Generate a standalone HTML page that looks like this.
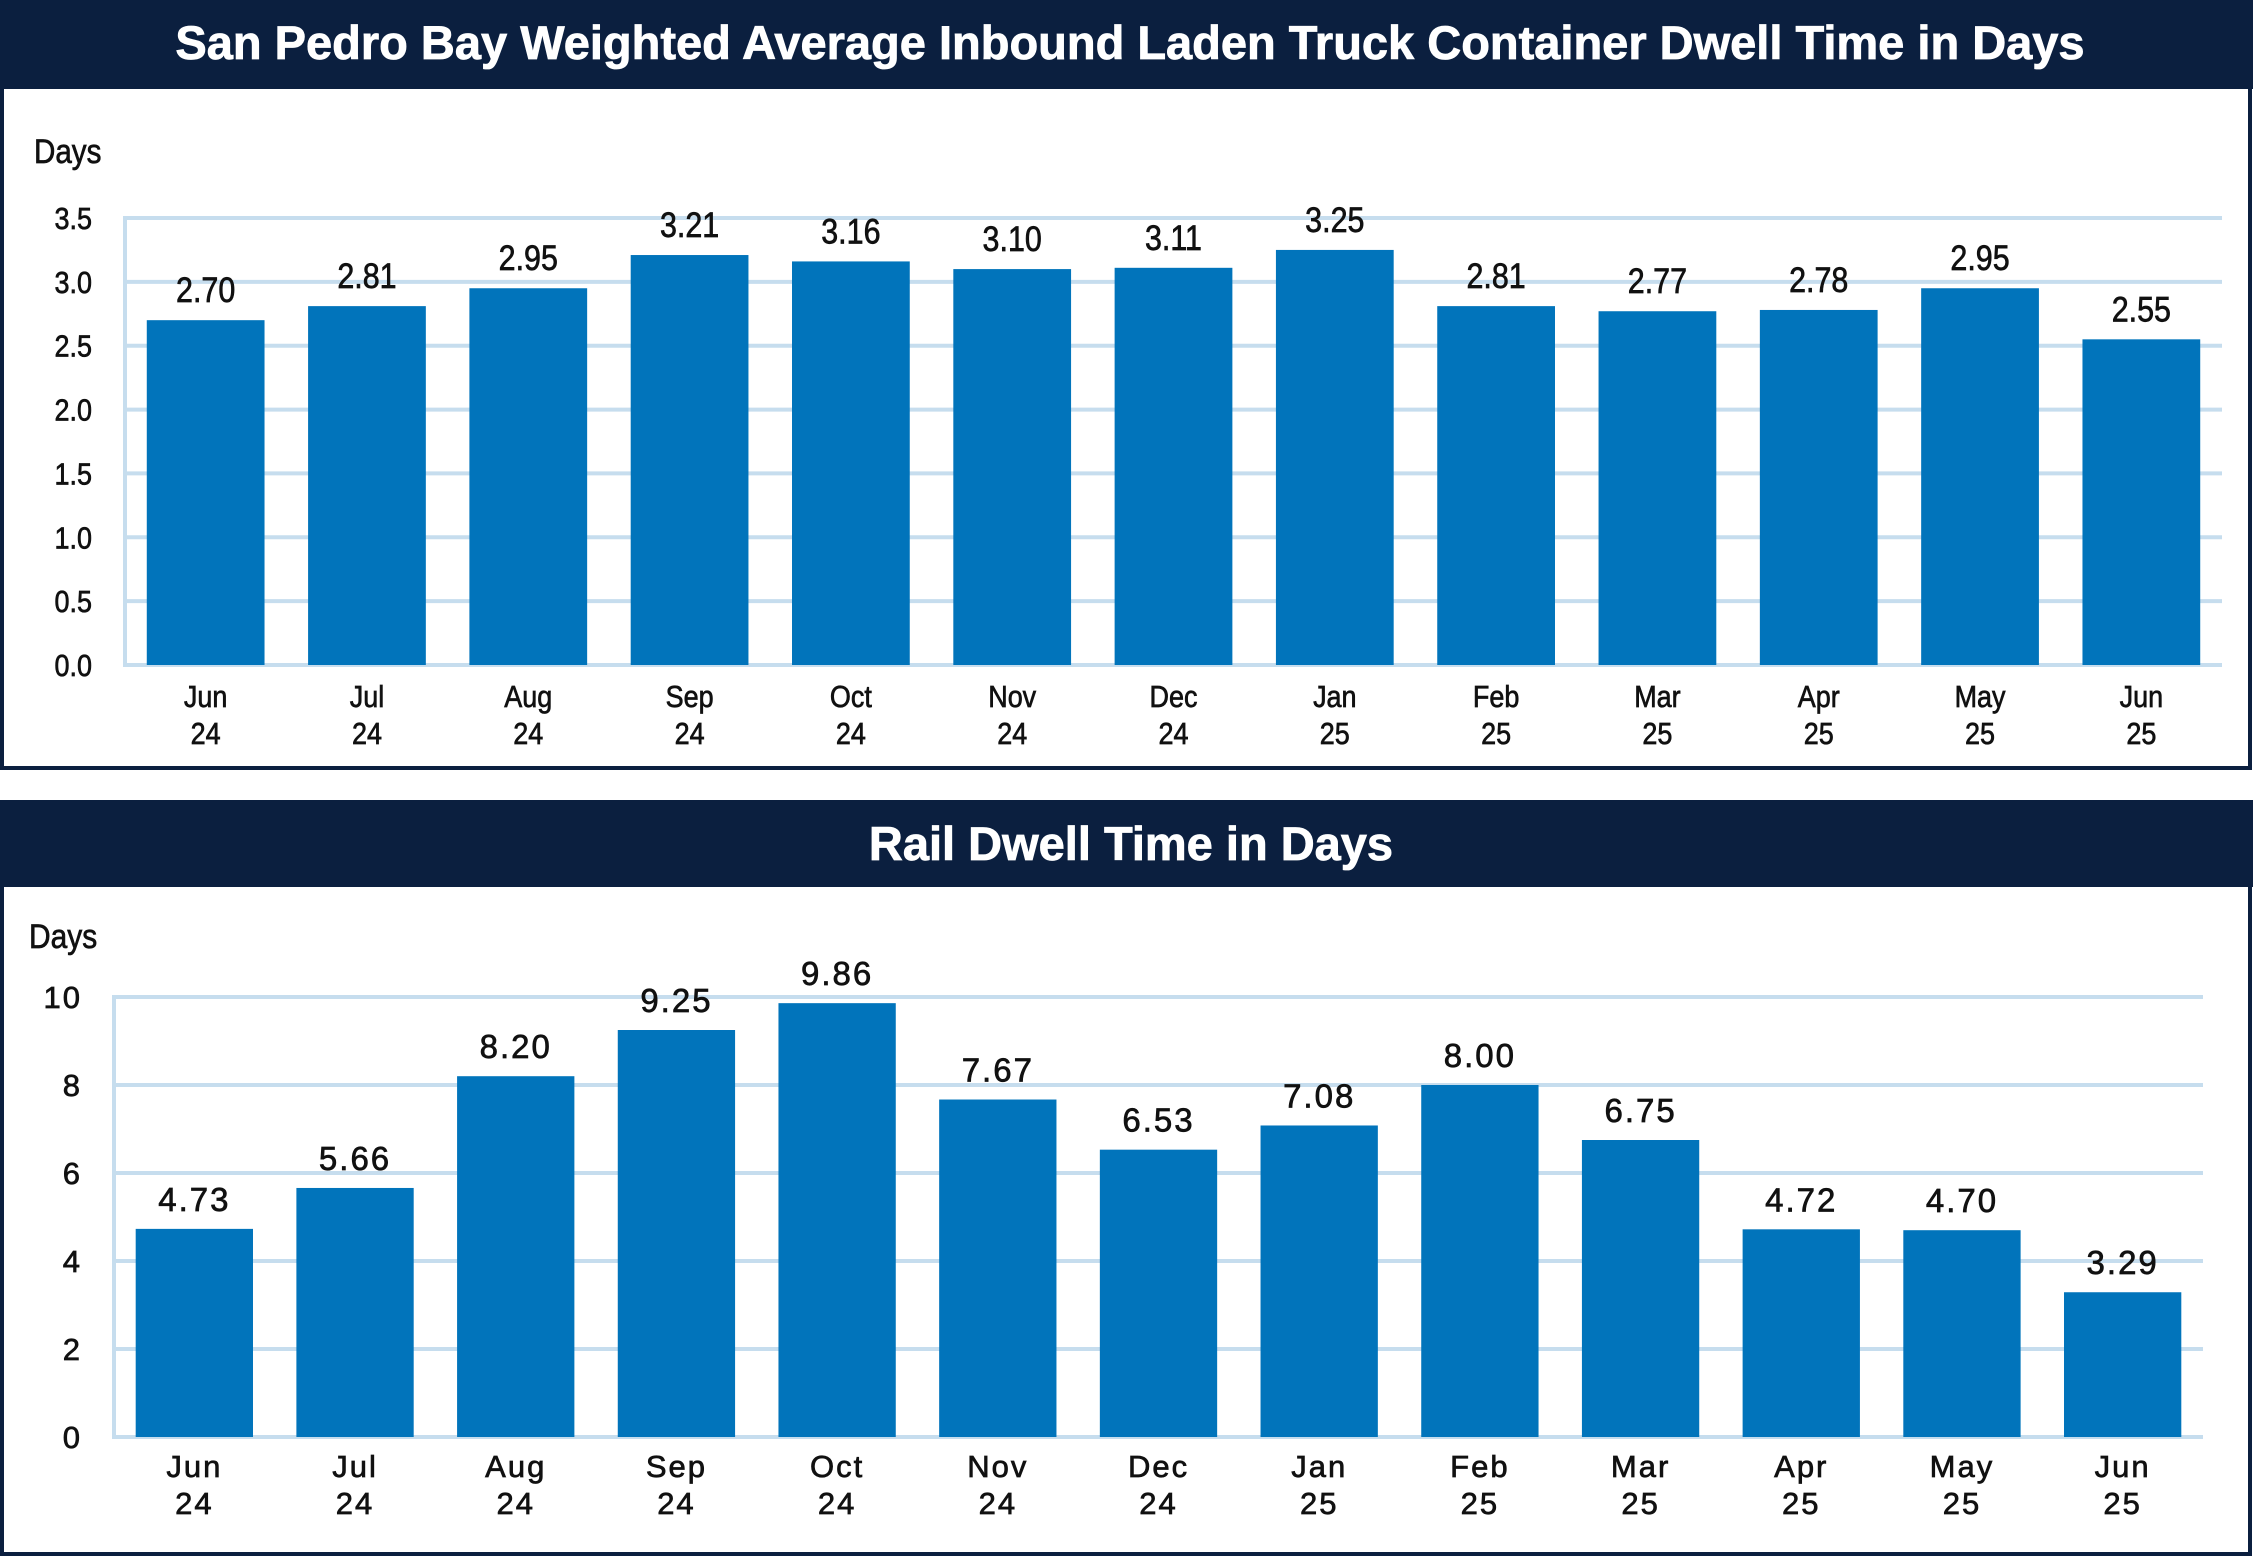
<!DOCTYPE html>
<html><head><meta charset="utf-8">
<style>
html,body{margin:0;padding:0;background:#fff;}
body{width:2253px;height:1557px;overflow:hidden;font-family:"Liberation Sans",sans-serif;}
svg text{font-family:"Liberation Sans",sans-serif;}
</style></head>
<body>
<svg id="svg" width="2253" height="1557" viewBox="0 0 2253 1557" xmlns="http://www.w3.org/2000/svg">
  <rect x="0" y="0" width="2253" height="1557" fill="#fff"/>
  <rect x="2" y="60" width="2248" height="708" fill="#fff" stroke="#0b1f3f" stroke-width="4"/>
  <rect x="0" y="0" width="2253" height="89" fill="#0b1f3f"/>
  <text x="1130" y="59" text-anchor="middle" fill="#fff" font-size="47" font-weight="bold" stroke="#fff" stroke-width="0.8">San Pedro Bay Weighted Average Inbound Laden Truck Container Dwell Time in Days</text>
  <rect x="2" y="820" width="2248" height="734" fill="#fff" stroke="#0b1f3f" stroke-width="4"/>
  <rect x="0" y="800" width="2253" height="87" fill="#0b1f3f"/>
  <text x="1131" y="860" text-anchor="middle" fill="#fff" font-size="47" font-weight="bold" stroke="#fff" stroke-width="0.8">Rail Dwell Time in Days</text>
  <g id="c1"></g>
  <g id="c2"></g>
</svg>
<script>
const categories1 = ["Jun|24","Jul|24","Aug|24","Sep|24","Oct|24","Nov|24","Dec|24","Jan|25","Feb|25","Mar|25","Apr|25","May|25","Jun|25"];
const truckValues = [2.70,2.81,2.95,3.21,3.16,3.10,3.11,3.25,2.81,2.77,2.78,2.95,2.55];
const truckTicks = ["0.0","0.5","1.0","1.5","2.0","2.5","3.0","3.5"];
const categories2 = ["Jun|24","Jul|24","Aug|24","Sep|24","Oct|24","Nov|24","Dec|24","Jan|25","Feb|25","Mar|25","Apr|25","May|25","Jun|25"];
const railValues = [4.73,5.66,8.20,9.25,9.86,7.67,6.53,7.08,8.00,6.75,4.72,4.70,3.29];
const railTicks = ["0","2","4","6","8","10"];

const NS="http://www.w3.org/2000/svg";
function mk(tag,attrs,parent){const e=document.createElementNS(NS,tag);for(const k in attrs)e.setAttribute(k,attrs[k]);parent.appendChild(e);return e;}
function txt(parent,x,y,s,size,anchor,sx,ls){
  const g=mk('g',{transform:`translate(${x},${y}) scale(${sx},1)`},parent);
  const t=mk('text',{x:0,y:0,'font-size':size,'text-anchor':anchor,fill:'#111',stroke:'#111','stroke-width':0.7,'letter-spacing':ls||0},g);
  t.textContent=s;return t;
}
function drawChart(gid,cats,vals,ticks,opt){
  const g=document.getElementById(gid);
  const maxV=parseFloat(ticks[ticks.length-1]);
  const y=v=>opt.y0-(v/maxV)*(opt.y0-opt.yTop);
  const band=(opt.xR-opt.xL)/cats.length;
  const xc=i=>opt.xL+band*(i+0.5);
  ticks.forEach(t=>{
    const v=parseFloat(t);
    const l=mk('line',{x1:opt.xL,x2:opt.xR,y1:y(v),y2:y(v),stroke:'#c6ddee','stroke-width':4},g);
    
    
    const tl=txt(g,opt.tickX,y(v)+11,t,opt.fs,'end',opt.sx,opt.ls);
    
    
  });
  const ax=mk('line',{x1:opt.xL,x2:opt.xL,y1:opt.yTop-2,y2:opt.y0+2,stroke:'#c6ddee','stroke-width':4},g);
  
  
  const dl=txt(g,opt.daysX,opt.daysY,'Days',opt.fs+3,'start',opt.sxd,0);
  
  
  const bw=band*0.73;
  vals.forEach((v,i)=>{
    const r=mk('rect',{x:xc(i)-bw/2,y:y(v),width:bw,height:opt.y0-y(v),fill:'#0174bb'},g);
    
    
    const vl=txt(g,xc(i),y(v)-18,v.toFixed(2),opt.fs+opt.vAdd,'middle',opt.sx,opt.ls);
    
    
    const p=cats[i].split('|');
    const c1=txt(g,xc(i),opt.catY,p[0],opt.fs,'middle',opt.sx,opt.ls);
    
    
    const c2=txt(g,xc(i),opt.catY+37,p[1],opt.fs,'middle',opt.sx,opt.ls);
    
    
  });
}
drawChart('c1',categories1,truckValues,truckTicks,{xL:125,xR:2222,y0:665,yTop:218,tickX:92,fs:31,vAdd:4,sx:0.87,sxd:0.87,daysX:34,daysY:163,catY:707,ls:0});
drawChart('c2',categories2,railValues,railTicks,{xL:114,xR:2203,y0:1437,yTop:997,tickX:82,fs:31,vAdd:2,sx:1.0,sxd:0.88,daysX:29,daysY:948,catY:1477,ls:2});
</script>
</body></html>
